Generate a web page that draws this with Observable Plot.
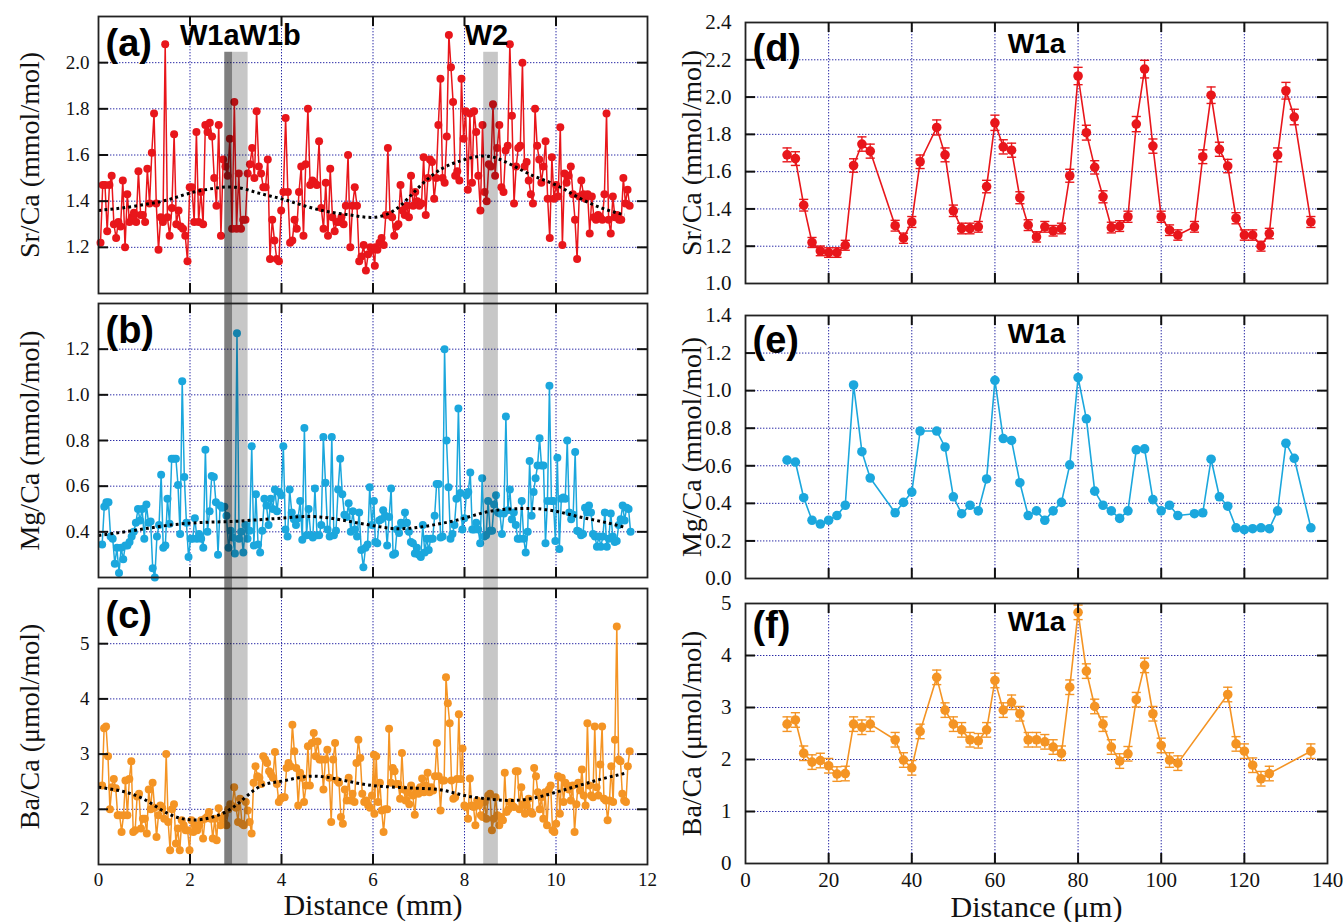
<!DOCTYPE html>
<html><head><meta charset="utf-8">
<script src="https://cdn.jsdelivr.net/npm/d3@7"></script>
<script src="https://cdn.jsdelivr.net/npm/@observablehq/plot@0.6"></script>
<style>
html,body{margin:0;padding:0;background:#fff;}
#fig{position:relative;width:1343px;height:922px;overflow:hidden;background:#fff;}
#fig svg{position:absolute;overflow:visible;max-width:none;}
</style></head><body><div id="fig"></div>
<script>
// ---------------- DATA ----------------
// Left column: distance (mm), sampled at regular laser-spot spacing; two read-off halves each
const srRange1 = [0.044, 6.04], srRange2 = [6.05, 11.61];
const srVals1 = [1.22,1.47,1.47,1.27,1.47,1.51,1.30,1.24,1.31,1.29,1.49,1.20,1.43,1.31,1.33,1.35,1.31,1.53,1.34,1.34,1.31,1.54,1.39,1.61,1.78,1.39,1.19,1.33,1.31,2.08,1.33,1.25,1.37,1.69,1.30,1.36,1.29,1.28,1.25,1.14,1.46,1.46,1.31,1.70,1.31,1.44,1.30,1.73,1.70,1.74,1.68,1.50,1.38,1.73,1.25,1.58,1.55,1.51,1.67,1.28,1.83,1.28,1.52,1.28,1.32,1.32,1.52,1.56,1.63,1.50,1.79,1.55,1.52,1.46,1.46,1.58,1.15,1.32,1.23,1.15,1.14,1.36,1.44,1.76,1.44,1.22,1.23,1.32,1.28,1.44,1.55,1.25,1.56,1.80,1.47,1.49,1.48,1.47,1.66,1.37,1.28,1.48,1.25,1.54,1.33,1.27,1.31,1.31,1.33,1.30,1.38,1.60,1.20,1.38,1.46,1.38,1.14,1.16,1.21,1.10,1.17,1.20,1.19,1.12];
const srVals2 = [1.20,1.19,1.22,1.24,1.21,1.34,1.63,1.34,1.33,1.25,1.29,1.30,1.47,1.36,1.34,1.38,1.33,1.51,1.38,1.44,1.40,1.38,1.39,1.59,1.34,1.50,1.58,1.57,1.41,1.50,1.73,1.93,1.50,1.48,1.68,2.12,1.98,1.83,1.51,1.53,1.49,1.93,1.67,1.79,1.45,1.78,1.48,1.79,1.70,1.51,1.36,1.73,1.44,1.40,1.56,1.55,1.82,1.51,1.63,1.73,1.46,1.44,1.62,1.64,2.08,1.77,1.39,1.55,1.63,1.64,2.00,1.55,1.57,1.49,1.43,1.39,1.80,1.64,1.58,1.48,1.55,1.66,1.41,1.24,1.59,1.41,1.47,1.42,1.72,1.21,1.52,1.48,1.51,1.55,1.43,1.32,1.15,1.42,1.49,1.43,1.41,1.43,1.26,1.42,1.33,1.32,1.34,1.33,1.32,1.43,1.78,1.32,1.26,1.42,1.33,1.34,1.32,1.32,1.50,1.39,1.45,1.38];

const mgRange1 = [0.08, 6.02], mgRange2 = [6.05, 11.63];
const mgVals1 = [0.345,0.51,0.53,0.53,0.38,0.37,0.26,0.33,0.22,0.33,0.28,0.34,0.34,0.355,0.38,0.40,0.44,0.50,0.45,0.50,0.37,0.52,0.44,0.445,0.24,0.20,0.38,0.43,0.65,0.33,0.34,0.545,0.435,0.72,0.72,0.72,0.605,0.39,1.06,0.64,0.44,0.29,0.37,0.37,0.46,0.37,0.39,0.37,0.33,0.76,0.40,0.49,0.645,0.64,0.53,0.30,0.515,0.505,0.51,0.47,0.33,0.405,0.375,0.305,1.27,0.37,0.40,0.31,0.43,0.37,0.405,0.775,0.34,0.565,0.345,0.31,0.405,0.545,0.515,0.43,0.545,0.50,0.585,0.49,0.575,0.56,0.775,0.41,0.38,0.585,0.485,0.455,0.43,0.46,0.535,0.365,0.855,0.385,0.50,0.385,0.375,0.59,0.385,0.385,0.43,0.815,0.615,0.41,0.38,0.815,0.385,0.405,0.585,0.72,0.565,0.475,0.465,0.525,0.40,0.49,0.41,0.38,0.485,0.32,0.245,0.33,0.345,0.595,0.43,0.535];
const mgVals2 = [0.355,0.35,0.45,0.455,0.495,0.47,0.34,0.465,0.59,0.30,0.305,0.41,0.395,0.44,0.43,0.485,0.44,0.40,0.355,0.35,0.305,0.33,0.30,0.29,0.43,0.31,0.37,0.32,0.37,0.37,0.47,0.61,0.61,0.375,0.38,1.20,0.80,0.595,0.37,0.39,0.43,0.545,0.94,0.57,0.41,0.46,0.56,0.575,0.66,0.41,0.41,0.44,0.41,0.35,0.635,0.38,0.385,0.535,0.405,0.405,0.52,0.56,0.485,0.48,0.39,0.48,0.905,0.495,0.585,0.455,0.485,0.43,0.37,0.37,0.535,0.37,0.31,0.40,0.71,0.47,0.575,0.635,0.69,0.81,0.69,0.69,0.35,0.535,1.04,0.535,0.535,0.36,0.725,0.325,0.545,0.55,0.545,0.80,0.485,0.455,0.475,0.75,0.405,0.40,0.385,0.39,0.505,0.485,0.515,0.485,0.39,0.38,0.335,0.38,0.335,0.38,0.485,0.335,0.37,0.48,0.38,0.355,0.36,0.43,0.455,0.515,0.45,0.505,0.50,0.40];

const baRange1 = [0.08, 6.02], baRange2 = [6.03, 11.61];
const baVals1 = [2.43,3.47,3.50,2.96,2.0,2.40,2.55,2.38,1.89,1.89,1.59,1.89,2.52,1.89,2.55,2.87,1.59,1.62,2.23,2.28,1.65,1.83,1.83,1.56,2.36,2.0,2.48,2.03,1.50,1.89,2.07,2.02,1.83,3.0,1.77,1.26,2.0,2.09,1.38,1.65,1.26,1.80,1.71,1.62,1.62,1.26,1.80,1.59,1.71,1.62,1.71,1.80,1.47,1.83,1.86,1.95,1.83,1.47,1.83,1.44,2.02,1.71,1.83,1.89,1.71,2.0,2.09,2.06,2.40,2.03,1.77,2.19,1.74,1.71,2.13,1.98,1.77,1.56,2.48,2.78,2.60,2.57,2.46,2.96,2.90,2.84,2.69,2.63,2.57,3.04,2.46,2.13,2.19,2.22,2.22,2.75,2.84,2.78,3.53,3.05,2.75,2.07,2.66,2.57,2.13,2.43,3.14,2.43,3.20,3.38,2.96,3.23,2.90,2.90,2.36,2.90,3.08,2.57,1.77,2.90,3.20,2.52,2.48,1.86,1.74,2.36,2.16,2.57,2.16,2.28,2.13,2.84,3.26,2.93,2.28,2.13,2.16,2.07,2.03,2.25,2.99];
const baVals2 = [1.92,2.96,2.13,2.48,1.98,1.59,2.0,2.0,3.46,2.48,2.75,2.69,2.46,2.46,2.19,3.02,2.36,2.16,2.31,2.09,2.43,2.25,1.90,2.34,2.28,2.40,2.56,2.31,2.43,2.66,2.31,2.40,2.34,2.60,3.20,2.60,1.98,2.52,2.52,4.39,3.92,3.56,2.52,2.19,2.22,2.55,3.72,2.55,3.10,2.07,2.04,1.83,2.56,2.07,2.04,1.71,2.16,2.07,1.89,1.86,2.13,1.83,2.25,2.28,1.62,1.83,2.22,1.89,1.71,1.86,1.80,2.66,1.95,2.0,2.13,2.07,2.04,2.69,2.69,2.0,2.40,2.09,1.92,2.07,2.19,1.95,1.92,2.75,2.60,2.31,2.0,2.22,1.83,2.31,1.71,2.36,2.43,1.62,1.59,1.74,2.60,1.92,2.57,2.13,2.48,2.43,2.36,2.16,2.43,1.59,2.09,2.48,2.34,2.72,2.25,2.07,3.56,2.43,2.25,2.22,3.50,2.40,2.25,2.81,3.50,2.19,2.16,1.80,2.16,2.78,2.13,3.26,5.31,2.90,2.87,2.28,2.16,2.13,2.78,3.05];

// smoothed trends (dotted black), read every 0.5 mm
const trendDist = [0,0.5,1,1.5,2,2.5,3,3.5,4,4.5,5,5.5,6,6.5,7,7.5,8,8.5,9,9.5,10,10.5,11,11.5];
const srTrend = [1.36,1.37,1.385,1.405,1.435,1.455,1.46,1.435,1.41,1.38,1.355,1.34,1.33,1.365,1.46,1.54,1.58,1.595,1.56,1.51,1.47,1.415,1.37,1.34];
const mgTrend = [0.384,0.398,0.413,0.428,0.438,0.443,0.446,0.453,0.46,0.467,0.462,0.445,0.427,0.414,0.42,0.437,0.46,0.488,0.50,0.502,0.49,0.466,0.445,0.42];
const baTrend = [2.40,2.33,2.18,1.93,1.81,1.86,2.07,2.40,2.51,2.59,2.58,2.50,2.43,2.40,2.38,2.35,2.25,2.19,2.16,2.20,2.31,2.43,2.55,2.65];

// shaded windows (mm)
const bandNames = ["W1a", "W1b", "W2"];
const bandStart = [2.76, 2.93, 8.42];
const bandEnd   = [2.93, 3.27, 8.74];
const bandShade = [0.50, 0.22, 0.22];
const bandTopSr = 2.045;

// Right column: W1a transect, distance (μm)
const distW1a = [10,12,14,16,18,20,22,24,26,28,30,36,38,40,42,46,48,50,52,54,56,58,60,62,64,66,68,70,72,74,76,78,80,82,84,86,88,90,92,94,96,98,100,102,104,108,110,112,114,116,118,120,122,124,126,128,130,132,136];
const srW1a = [1.69,1.67,1.42,1.22,1.175,1.166,1.166,1.205,1.633,1.748,1.71,1.31,1.243,1.33,1.653,1.837,1.69,1.39,1.295,1.295,1.304,1.52,1.862,1.733,1.715,1.46,1.313,1.25,1.304,1.283,1.295,1.578,2.113,1.809,1.623,1.465,1.30,1.308,1.358,1.855,2.15,1.737,1.358,1.286,1.26,1.304,1.68,2.01,1.72,1.63,1.35,1.26,1.26,1.20,1.268,1.69,2.034,1.893,1.33];
const mgW1a = [0.63,0.62,0.43,0.31,0.29,0.31,0.335,0.39,1.03,0.675,0.535,0.35,0.405,0.46,0.785,0.785,0.70,0.435,0.345,0.39,0.36,0.53,1.055,0.745,0.735,0.51,0.335,0.36,0.31,0.36,0.405,0.605,1.07,0.85,0.465,0.39,0.36,0.32,0.36,0.685,0.69,0.42,0.36,0.39,0.335,0.345,0.35,0.635,0.435,0.385,0.27,0.26,0.265,0.27,0.265,0.36,0.72,0.64,0.27];
const distBaW1a = [10,12,14,16,18,20,22,24,26,28,30,36,38,40,42,46,48,50,52,54,56,58,60,62,64,66,68,70,72,74,76,78,80,82,84,86,88,90,92,94,96,98,100,102,104,116,118,120,122,124,126,136];
const baW1a = [2.68,2.76,2.12,1.95,1.98,1.88,1.72,1.73,2.68,2.62,2.68,2.38,1.99,1.84,2.54,3.58,2.95,2.68,2.57,2.38,2.36,2.57,3.52,2.95,3.10,2.88,2.38,2.38,2.34,2.24,2.12,3.39,4.83,3.70,3.02,2.68,2.24,1.97,2.11,3.15,3.81,2.88,2.27,1.99,1.93,3.25,2.30,2.16,1.89,1.63,1.73,2.16];
const srErrRel = 0.022;   // analytical uncertainty (relative)
const baErrAbs = 0.14;    // analytical uncertainty (μmol/mol)

// ticks
const xTicksL = [0,2,4,6,8,10,12], xGridL = [2,4,6,8,10];
const xTicksR = [0,20,40,60,80,100,120,140], xGridR = [20,40,60,80,100,120];

// ---------------- DRAWING ----------------
const RED = "#e8161b", BLUE = "#1ba7dd", ORANGE = "#f49424", GRID = "#2a2aa6";
const SERIF = "Liberation Serif";
const SANS = "Liberation Sans";
const fig = document.getElementById("fig");

function sampled(vals, range) {
  const [a, b] = range, n = vals.length;
  return vals.map((v, i) => ({x: a + (b - a) * i / (n - 1), y: v}));
}
function paired(xs, ys) { return xs.map((x, i) => ({x, y: ys[i]})); }

const srSeries = sampled(srVals1, srRange1).concat(sampled(srVals2, srRange2));
const mgSeries = sampled(mgVals1, mgRange1).concat(sampled(mgVals2, mgRange2));
const baSeries = sampled(baVals1, baRange1).concat(sampled(baVals2, baRange2));
const bands = bandNames.map((n, i) => ({name: n, x1: bandStart[i], x2: bandEnd[i], op: bandShade[i]}));

function gridMarks(xg, yg) {
  return [
    Plot.gridX(xg, {stroke: GRID, strokeOpacity: 1, strokeWidth: 1, strokeDasharray: "1.4,1.6"}),
    Plot.gridY(yg, {stroke: GRID, strokeOpacity: 1, strokeWidth: 1, strokeDasharray: "1.4,1.6"})
  ];
}
function frameMarks(xg, yg, fw, fh) {
  const t = 10, s = {stroke: "#111", strokeWidth: 2};
  return [
    Plot.frame({stroke: "#222", strokeWidth: 1.8}),
    Plot.tickY(yg, {y: d => d, insetRight: fw - t, ...s}),
    Plot.tickY(yg, {y: d => d, insetLeft: fw - t, ...s}),
    Plot.tickX(xg, {x: d => d, insetBottom: fh - t, ...s}),
    Plot.tickX(xg, {x: d => d, insetTop: fh - t, ...s})
  ];
}
function tagMark(label, dx, dy) {
  return Plot.text([label], {text: d => d, frameAnchor: "top-left", dx, dy, textAnchor: "start", lineAnchor: "middle",
    fontFamily: SANS, fontWeight: "bold", fontSize: 38, fill: "#000"});
}
function yTitle(label, dx) {
  return Plot.text([label], {text: d => d, frameAnchor: "left", dx, rotate: -90, textAnchor: "middle", lineAnchor: "middle",
    fontFamily: SERIF, fontSize: 28, fill: "#111"});
}
function xTitle(label, dy) {
  return Plot.text([label], {text: d => d, frameAnchor: "bottom", dy, textAnchor: "middle", lineAnchor: "middle",
    fontFamily: SERIF, fontSize: 30, fill: "#111"});
}

function place(svg, left, top) {
  svg.style.left = left + "px"; svg.style.top = top + "px";
  fig.appendChild(svg);
}

// ---- left column ----
const LW = 660, LML = 98, LMR = 13;
function leftPanel(o) {
  const fw = LW - LML - LMR, fh = o.height - o.mt - o.mb;
  const marks = [
    ...gridMarks(xGridL, o.yGrid),
    Plot.line(o.series, {x: "x", y: "y", stroke: o.color, strokeWidth: 1.5}),
    Plot.dot(o.series, {x: "x", y: "y", r: 4, fill: o.color}),
    Plot.line(o.trend, {x: "x", y: "y", curve: "natural", stroke: "#000", strokeWidth: 3, strokeLinecap: "butt",
      strokeDasharray: "2.8,3.2"}),
    o.bandMark,
    ...frameMarks(xGridL, o.yGrid, fw, fh),
    tagMark(o.tag, 7, 27),
    yTitle(o.title, -68),
    ...(o.extra || [])
  ];
  const svg = Plot.plot({
    width: LW, height: o.height, marginLeft: LML, marginRight: LMR, marginTop: o.mt, marginBottom: o.mb,
    style: {fontFamily: SERIF, fontSize: "19px", color: "#111", background: "transparent", overflow: "visible"},
    x: o.showX ? {domain: [0, 12], ticks: xTicksL, tickFormat: d3.format("d"), tickSize: 0, tickPadding: 8, label: null}
               : {domain: [0, 12], axis: null},
    y: {domain: o.yDomain, ticks: o.yTicks, tickFormat: o.yFmt, tickSize: 0, tickPadding: 9, label: null},
    marks
  });
  place(svg, 0, o.top);
}
const trendOf = arr => paired(trendDist, arr);

leftPanel({
  top: 0, height: 298, mt: 16, mb: 5, yDomain: [1.0, 2.2], yTicks: [1.2, 1.4, 1.6, 1.8, 2.0], yGrid: [1.2, 1.4, 1.6, 1.8, 2.0],
  yFmt: d3.format(".1f"), series: srSeries, trend: trendOf(srTrend), color: RED, tag: "(a)", title: "Sr/Ca (mmol/mol)",
  bandMark: Plot.rect(bands, {x1: "x1", x2: "x2", y1: 1.0, y2: bandTopSr, fill: "#000", fillOpacity: "op", insetBottom: -5}),
  extra: [
    Plot.text([{x: 3.1, t: "W1aW1b"}, {x: 8.48, t: "W2"}], {x: "x", text: "t", frameAnchor: "top", dy: 19, textAnchor: "middle",
      lineAnchor: "middle", fontFamily: SANS, fontWeight: "bold", fontSize: 29, fill: "#000"})
  ]
});
leftPanel({
  top: 298, height: 285, mt: 5, mb: 6, yDomain: [0.2, 1.4], yTicks: [0.4, 0.6, 0.8, 1.0, 1.2], yGrid: [0.4, 0.6, 0.8, 1.0, 1.2],
  yFmt: d3.format(".1f"), series: mgSeries, trend: trendOf(mgTrend), color: BLUE, tag: "(b)", title: "Mg/Ca (mmol/mol)",
  bandMark: Plot.rect(bands, {x1: "x1", x2: "x2", fill: "#000", fillOpacity: "op", insetTop: -5, insetBottom: -6})
});
leftPanel({
  top: 583, height: 339, mt: 5, mb: 58, yDomain: [1, 6], yTicks: [2, 3, 4, 5], yGrid: [2, 3, 4, 5],
  yFmt: d3.format("d"), series: baSeries, trend: trendOf(baTrend), color: ORANGE, tag: "(c)", title: "Ba/Ca (μmol/mol)",
  bandMark: Plot.rect(bands, {x1: "x1", x2: "x2", fill: "#000", fillOpacity: "op", insetTop: -5}),
  showX: true, extra: [xTitle("Distance (mm)", 41)]
});

// ---- right column ----
const RW = 683, RML = 85, RMR = 16;
function rightPanel(o) {
  const fw = RW - RML - RMR, fh = o.height - o.mt - o.mb;
  const marks = [...gridMarks(xGridR, o.yGrid)];
  if (o.err) {
    const caps = o.points.flatMap(d => [{x1: d.x - 1.1, x2: d.x + 1.1, y: d.y - o.err(d)}, {x1: d.x - 1.1, x2: d.x + 1.1, y: d.y + o.err(d)}]);
    marks.push(
      Plot.ruleX(o.points, {x: "x", y1: d => d.y - o.err(d), y2: d => d.y + o.err(d), stroke: o.color, strokeWidth: 1.4}),
      Plot.link(caps, {x1: "x1", x2: "x2", y1: "y", y2: "y", stroke: o.color, strokeWidth: 1.4})
    );
  }
  marks.push(
    Plot.line(o.points, {x: "x", y: "y", stroke: o.color, strokeWidth: 1.6}),
    Plot.dot(o.points, {x: "x", y: "y", r: 4.8, fill: o.color}),
    ...frameMarks(xGridR, o.yGrid, fw, fh),
    tagMark(o.tag, 7, o.tagDy),
    Plot.text(["W1a"], {text: d => d, frameAnchor: "top", dy: o.wDy, textAnchor: "middle", lineAnchor: "middle",
      fontFamily: SANS, fontWeight: "bold", fontSize: 28, fill: "#000"}),
    yTitle(o.title, -53),
    ...(o.extra || [])
  );
  const svg = Plot.plot({
    width: RW, height: o.height, marginLeft: RML, marginRight: RMR, marginTop: o.mt, marginBottom: o.mb,
    style: {fontFamily: SERIF, fontSize: "21px", color: "#111", background: "transparent", overflow: "visible"},
    x: o.showX ? {domain: [0, 140], ticks: xTicksR, tickFormat: d3.format("d"), tickSize: 0, tickPadding: 9, label: null}
               : {domain: [0, 140], axis: null},
    y: {domain: o.yDomain, ticks: o.yTicks, tickFormat: o.yFmt, tickSize: 0, tickPadding: 14, label: null},
    marks
  });
  place(svg, 660, o.top);
}

rightPanel({
  top: 0, height: 299, mt: 22, mb: 16, yDomain: [1.0, 2.4], yTicks: [1.0, 1.2, 1.4, 1.6, 1.8, 2.0, 2.2, 2.4],
  yGrid: [1.2, 1.4, 1.6, 1.8, 2.0, 2.2], yFmt: d3.format(".1f"), points: paired(distW1a, srW1a), color: RED,
  err: d => d.y * srErrRel, tag: "(d)", tagDy: 26, wDy: 22, title: "Sr/Ca (mmol/mol)"
});
rightPanel({
  top: 299, height: 291, mt: 16, mb: 12, yDomain: [0, 1.4], yTicks: [0, 0.2, 0.4, 0.6, 0.8, 1.0, 1.2, 1.4],
  yGrid: [0.2, 0.4, 0.6, 0.8, 1.0, 1.2], yFmt: d3.format(".1f"), points: paired(distW1a, mgW1a), color: BLUE,
  tag: "(e)", tagDy: 25, wDy: 19, title: "Mg/Ca (mmol/mol)"
});
rightPanel({
  top: 590, height: 332, mt: 13, mb: 59, yDomain: [0, 5], yTicks: [0, 1, 2, 3, 4, 5],
  yGrid: [1, 2, 3, 4], yFmt: d3.format("d"), points: paired(distBaW1a, baW1a), color: ORANGE,
  err: () => baErrAbs, tag: "(f)", tagDy: 22, wDy: 19, title: "Ba/Ca (μmol/mol)",
  showX: true, extra: [xTitle("Distance (μm)", 44)]
});
</script></body></html>
